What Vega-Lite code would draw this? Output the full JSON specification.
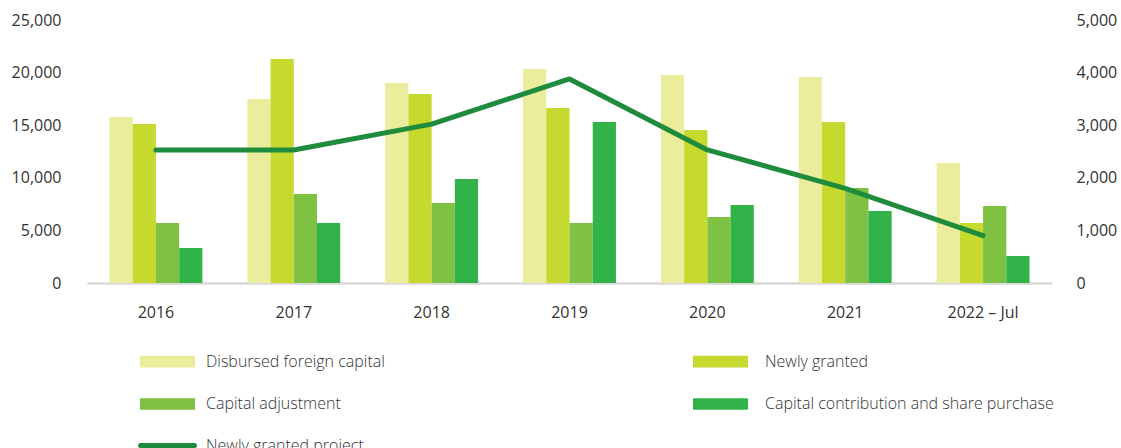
{
  "$schema": "https://vega.github.io/schema/vega-lite/v6.json",
  "width": 965,
  "height": 263,
  "autosize": "none",
  "padding": {"left": 87, "top": 20, "right": 69, "bottom": 165},
  "background": "white",
  "config": {
    "view": {"stroke": null},
    "font": "Open Sans",
    "axis": {"labelFont": "Open Sans", "labelFontSize": 16, "labelColor": "#333333", "grid": false, "ticks": false, "title": null},
    "legend": {
      "padding": 0,
      "labelFont": "Open Sans",
      "labelFontSize": 16,
      "labelFontWeight": 300,
      "labelColor": "#333333",
      "labelOffset": 26,
      "labelLimit": 400,
      "symbolSize": 400,
      "title": null
    }
  },
  "datasets": {
    "bars": [
      {"year": "2016", "series": "Disbursed foreign capital", "value": 15780},
      {"year": "2016", "series": "Newly granted", "value": 15110},
      {"year": "2016", "series": "Capital adjustment", "value": 5700},
      {"year": "2016", "series": "Capital contribution and share purchase", "value": 3330},
      {"year": "2017", "series": "Disbursed foreign capital", "value": 17490},
      {"year": "2017", "series": "Newly granted", "value": 21290},
      {"year": "2017", "series": "Capital adjustment", "value": 8460},
      {"year": "2017", "series": "Capital contribution and share purchase", "value": 5700},
      {"year": "2018", "series": "Disbursed foreign capital", "value": 19010},
      {"year": "2018", "series": "Newly granted", "value": 17970},
      {"year": "2018", "series": "Capital adjustment", "value": 7610},
      {"year": "2018", "series": "Capital contribution and share purchase", "value": 9890},
      {"year": "2019", "series": "Disbursed foreign capital", "value": 20340},
      {"year": "2019", "series": "Newly granted", "value": 16640},
      {"year": "2019", "series": "Capital adjustment", "value": 5700},
      {"year": "2019", "series": "Capital contribution and share purchase", "value": 15300},
      {"year": "2020", "series": "Disbursed foreign capital", "value": 19770},
      {"year": "2020", "series": "Newly granted", "value": 14540},
      {"year": "2020", "series": "Capital adjustment", "value": 6270},
      {"year": "2020", "series": "Capital contribution and share purchase", "value": 7410},
      {"year": "2021", "series": "Disbursed foreign capital", "value": 19580},
      {"year": "2021", "series": "Newly granted", "value": 15300},
      {"year": "2021", "series": "Capital adjustment", "value": 9030},
      {"year": "2021", "series": "Capital contribution and share purchase", "value": 6840},
      {"year": "2022 – Jul", "series": "Disbursed foreign capital", "value": 11410},
      {"year": "2022 – Jul", "series": "Newly granted", "value": 5700},
      {"year": "2022 – Jul", "series": "Capital adjustment", "value": 7320},
      {"year": "2022 – Jul", "series": "Capital contribution and share purchase", "value": 2570}
    ],
    "line": [
      {"year": "2016", "projects": 2530},
      {"year": "2017", "projects": 2530},
      {"year": "2018", "projects": 3020},
      {"year": "2019", "projects": 3880},
      {"year": "2020", "projects": 2530},
      {"year": "2021", "projects": 1800},
      {"year": "2022 – Jul", "projects": 900}
    ]
  },
  "encoding": {
    "x": {
      "field": "year",
      "type": "nominal",
      "sort": null,
      "scale": {"paddingInner": 0.326, "paddingOuter": 0.163},
      "axis": {"labelAngle": 0, "labelPadding": 21, "domainColor": "#d9d9d9", "domainWidth": 2.5, "labelFontSize": 16}
    }
  },
  "layer": [
    {
      "data": {"name": "bars"},
      "mark": {"type": "bar"},
      "encoding": {
        "xOffset": {
          "field": "series",
          "type": "nominal",
          "sort": ["Disbursed foreign capital", "Newly granted", "Capital adjustment", "Capital contribution and share purchase"],
          "scale": {"paddingInner": 0, "paddingOuter": 0}
        },
        "y": {
          "field": "value",
          "type": "quantitative",
          "scale": {"domain": [0, 25000]},
          "axis": {"orient": "left", "values": [0, 5000, 10000, 15000, 20000, 25000], "format": ",.0f", "domain": false, "labelPadding": 26}
        },
        "color": {
          "field": "series",
          "type": "nominal",
          "scale": {
            "domain": ["Disbursed foreign capital", "Capital adjustment", "Newly granted project", "Newly granted", "Capital contribution and share purchase"],
            "range": ["#EAED9B", "#7FC142", "#1F8B3C", "#C6D92E", "#32B34A"]
          },
          "legend": {
            "orient": "none",
            "direction": "vertical",
            "legendX": 68,
            "legendY": 329,
            "columns": 2,
            "columnPadding": 300,
            "rowPadding": 15.5,
            "encode": {
              "symbols": {
                "update": {
                  "shape": {"signal": "datum.value === 'Newly granted project' ? 'M-2.7,0H2.7' : 'M-2.5,-0.33H2.5V0.33H-2.5Z'"},
                  "fill": {"signal": "datum.value === 'Newly granted project' ? 'transparent' : scale('color', datum.value)"},
                  "stroke": {"signal": "datum.value === 'Newly granted project' ? '#1F8B3C' : 'transparent'"},
                  "strokeWidth": {"value": 5},
                  "strokeCap": {"value": "round"},
                  "opacity": {"value": 1}
                }
              },
              "labels": {
                "update": {
                  "dx": {"signal": "datum.value === 'Newly granted' || datum.value === 'Capital contribution and share purchase' ? 6 : 0"}
                }
              }
            }
          }
        }
      }
    },
    {
      "data": {"name": "line"},
      "mark": {"type": "line", "strokeWidth": 5, "strokeCap": "round", "strokeJoin": "round"},
      "encoding": {
        "y": {
          "field": "projects",
          "type": "quantitative",
          "scale": {"domain": [0, 5000]},
          "axis": {"orient": "right", "values": [0, 1000, 2000, 3000, 4000, 5000], "format": ",.0f", "domain": false, "labelPadding": 24}
        },
        "color": {"datum": "Newly granted project"}
      }
    }
  ],
  "resolve": {"scale": {"y": "independent"}}
}
